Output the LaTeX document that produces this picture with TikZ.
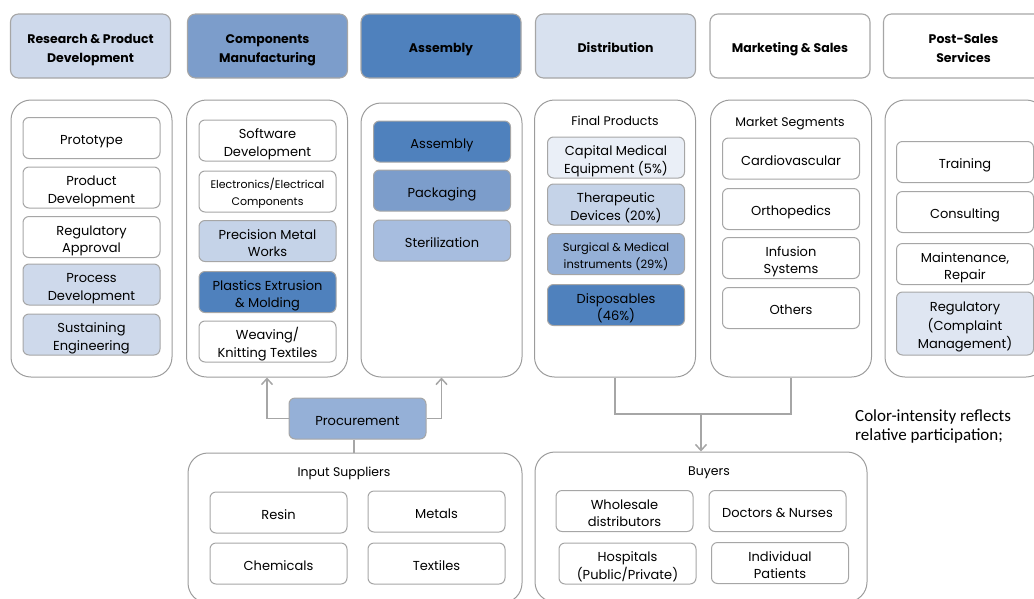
\documentclass[tikz,border=0pt]{standalone}
\usepackage{fontspec}
\setmainfont{Poppins}
\newfontfamily\notefont{Carlito}
\usetikzlibrary{arrows.meta}
\definecolor{edge}{HTML}{A6A6A6}
\definecolor{pedge}{HTML}{9C9C9C}
\definecolor{blueA}{HTML}{4F81BD}
\definecolor{blueB}{HTML}{7C9DCB}
\definecolor{blueC}{HTML}{95B0D7}
\definecolor{blueD}{HTML}{A7BDDF}
\definecolor{blueE}{HTML}{C5D3E8}
\definecolor{blueF}{HTML}{CED9EB}
\definecolor{blueG}{HTML}{DFE6F2}
\definecolor{blueH}{HTML}{EAEFF7}
\tikzset{
  hdr/.style={draw=edge, line width=1.1pt, rounded corners=8pt, inner sep=0pt,
    minimum width=160pt, minimum height=64pt, align=center,
    font=\fontsize{12.5}{19}\selectfont\bfseries, text height=13.5pt, text depth=0pt},
  hdrtwo/.style={text height=33pt},
  panel/.style={draw=pedge, line width=1pt, rounded corners=20pt, inner sep=0pt, minimum width=161pt},
  ibox/.style={draw=edge, line width=1pt, fill=white, rounded corners=6pt, inner sep=0pt,
    minimum width=137pt, minimum height=41pt, align=center,
    font=\fontsize{13}{17.5}\selectfont, text height=13.5pt, text depth=0pt},
  twoline/.style={text height=31pt},
  threeline/.style={font=\fontsize{13}{18.5}\selectfont, text height=50.5pt},
  smalltwo/.style={font=\fontsize{11}{17}\selectfont, text height=28.5pt},
  ttl/.style={font=\fontsize{12.5}{15}\selectfont, text height=8.8pt, text depth=0pt},
  link/.style={draw=edge, line width=1.5pt},
  tip/.style={-{Straight Barb[length=6pt,width=11pt,line width=1.5pt]}}
}
\begin{document}
\begin{tikzpicture}[x=1pt,y=-1pt]
\useasboundingbox (0,0) rectangle (1034,598);

% stage headers
\node[hdr, hdrtwo, fill=blueF] (h1) at (90.5,46) {Research \& Product\\Development};
\node[hdr, hdrtwo, fill=blueB] (h2) at (267.5,46) {Components\\Manufacturing};
\node[hdr, fill=blueA] (h3) at (441,46) {Assembly};
\node[hdr, fill=blueF!80!white] (h4) at (615.5,46) {Distribution};
\node[hdr, fill=white] (h5) at (790,46) {Marketing \& Sales};
\node[hdr, hdrtwo, fill=white] (h6) at (963.5,46) {Post-Sales\\Services};

% stage panels
\node[panel, minimum height=277pt] (p1) at (91.5,238.5) {};
\node[panel, minimum height=277pt] (p2) at (267,238.5) {};
\node[panel, minimum height=274pt] (p3) at (441.5,240) {};
\node[panel, minimum height=277pt] (p4) at (615,238.5) {};
\node[panel, minimum height=277pt] (p5) at (791,238.5) {};
\node[panel, minimum height=277pt] (p6) at (965.5,238.5) {};

% research & product development
\node[ibox] (rd1) at (91.5,138) {Prototype};
\node[ibox, twoline] (rd2) at (91.5,187.5) {Product\\Development};
\node[ibox, twoline] (rd3) at (91.5,237) {Regulatory\\Approval};
\node[ibox, twoline, fill=blueF] (rd4) at (91.5,284.5) {Process\\Development};
\node[ibox, twoline, fill=blueF] (rd5) at (91.5,334.5) {Sustaining\\Engineering};

% components manufacturing
\node[ibox, twoline] (cm1) at (267.5,140.5) {Software\\Development};
\node[ibox, smalltwo] (cm2) at (267.5,191.5) {Electronics/Electrical\\Components};
\node[ibox, twoline, fill=blueE] (cm3) at (267.5,241) {Precision Metal\\Works};
\node[ibox, twoline, fill=blueA] (cm4) at (267.5,292) {Plastics Extrusion\\\& Molding};
\node[ibox, twoline] (cm5) at (267.5,341.5) {Weaving/\\Knitting Textiles};

% assembly
\node[ibox, fill=blueA] (as1) at (442,141.5) {Assembly};
\node[ibox, fill=blueB] (as2) at (442,190.5) {Packaging};
\node[ibox, fill=blueD] (as3) at (442,240.5) {Sterilization};

% distribution
\node[ttl] (fpt) at (615,121) {Final Products};
\node[ibox, twoline, fill=blueH] (fp1) at (616,157.5) {Capital Medical\\Equipment (5\%)};
\node[ibox, twoline, fill=blueE] (fp2) at (616,204.5) {Therapeutic\\Devices (20\%)};
\node[ibox, smalltwo, font=\fontsize{11.5}{17}\selectfont, fill=blueC] (fp3) at (616,254) {Surgical \& Medical\\instruments (29\%)};
\node[ibox, twoline, fill=blueA] (fp4) at (616,305) {Disposables\\(46\%)};

% marketing & sales
\node[ttl] (mst) at (790,122) {Market Segments};
\node[ibox] (ms1) at (791,158.5) {Cardiovascular};
\node[ibox] (ms2) at (791,209) {Orthopedics};
\node[ibox, twoline] (ms3) at (791,258) {Infusion\\Systems};
\node[ibox] (ms4) at (791,308) {Others};

% post-sales services
\node[ibox] (ps1) at (965,162) {Training};
\node[ibox] (ps2) at (965,212) {Consulting};
\node[ibox, twoline] (ps3) at (965,264) {Maintenance,\\Repair};
\node[ibox, threeline, fill=blueG, minimum height=63pt] (ps4) at (965,323.5) {Regulatory\\(Complaint\\Management)};

% procurement and input suppliers
\node[ibox, fill=blueC] (proc) at (357.5,418.5) {Procurement};
\node[panel, minimum width=334pt, minimum height=150pt] (ins) at (355,528) {};
\node[ttl] (inst) at (344,472) {Input Suppliers};
\node[ibox] (in1) at (278.5,512.5) {Resin};
\node[ibox] (in2) at (436.5,511.5) {Metals};
\node[ibox] (in3) at (278.5,563.5) {Chemicals};
\node[ibox] (in4) at (436.5,563.5) {Textiles};

% buyers
\node[panel, minimum width=332pt, minimum height=150pt] (buy) at (701,527) {};
\node[ttl] (buyt) at (709,471) {Buyers};
\node[ibox, twoline] (by1) at (624.5,511) {Wholesale\\distributors};
\node[ibox] (by2) at (777.5,511) {Doctors \& Nurses};
\node[ibox, twoline] (by3) at (627.5,563.5) {Hospitals\\(Public/Private)};
\node[ibox, twoline] (by4) at (780,563) {Individual\\Patients};

% connectors
\draw[link, tip] (proc.west) -| (p2.south);
\draw[link, tip] (proc.east) -| (p3.south);
\draw[link] ([xshift=-3.5pt]proc.south) -- ([xshift=-3.5pt]proc.south |- ins.north);
\coordinate (dm) at (701,414);
\draw[link] (p4.south) |- (dm) -| (p5.south);
\draw[link, tip] (dm) -- (dm |- buy.north);

% legend note
\node[anchor=north west, align=left, inner sep=0pt, font=\notefont\fontsize{17}{19}\selectfont] (note) at (855,409)
  {Color-intensity reflects\\relative participation;};
\end{tikzpicture}
\end{document}
